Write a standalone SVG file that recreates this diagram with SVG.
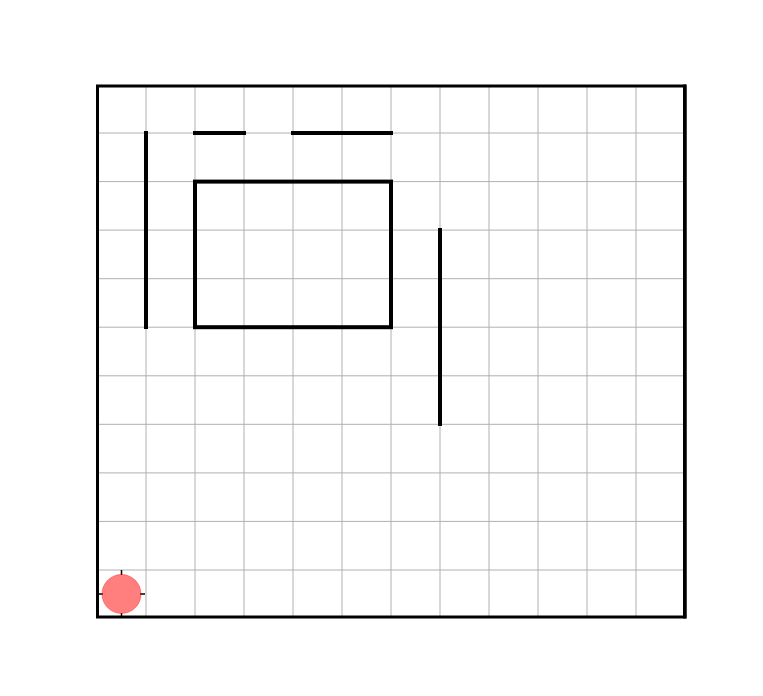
<svg xmlns="http://www.w3.org/2000/svg" width="763" height="696" viewBox="0 0 763 696">
<style>
.grid{stroke:#b0b0b0;stroke-width:1;fill:none}
.wall{stroke:#000;stroke-width:4;fill:none;stroke-linecap:butt}
.tick{stroke:#000;stroke-width:1.5}
</style>
<rect width="763" height="696" fill="#fff"/>
<g id="grid" class="grid">
<path d="M146,86V617M195,86V617M244,86V617M293,86V617M342,86V617M391,86V617M440,86V617M489,86V617M538,86V617M587,86V617M636,86V617"/>
<path d="M97,133H685M97,181.6H685M97,230.1H685M97,278.7H685M97,327.2H685M97,375.8H685M97,424.3H685M97,472.9H685M97,521.4H685M97,570H685"/>
</g>
<g id="walls">
<line id="wall1" class="wall" x1="146" y1="131" x2="146" y2="329"/>
<line id="wall2" class="wall" x1="193" y1="133" x2="246" y2="133"/>
<line id="wall3" class="wall" x1="291" y1="133" x2="393" y2="133"/>
<rect id="room" class="wall" x="195" y="181.6" width="196" height="145.6"/>
<line id="wall4" class="wall" x1="440" y1="228" x2="440" y2="426"/>
</g>
<g id="robot">
<path class="tick" d="M121.5,570V575M121.5,613V618M98,594H103M140,594H145"/>
<circle cx="121.5" cy="594" r="19.5" fill="#ff0000" fill-opacity="0.5" stroke="#ff0000" stroke-opacity="0.35" stroke-width="1"/>
</g>
<rect id="frame" x="97.5" y="86" width="587" height="531" fill="none" stroke="#000" stroke-width="3"/>
<line x1="685" y1="84.5" x2="685" y2="618.5" stroke="#000" stroke-width="3.5"/>
</svg>
